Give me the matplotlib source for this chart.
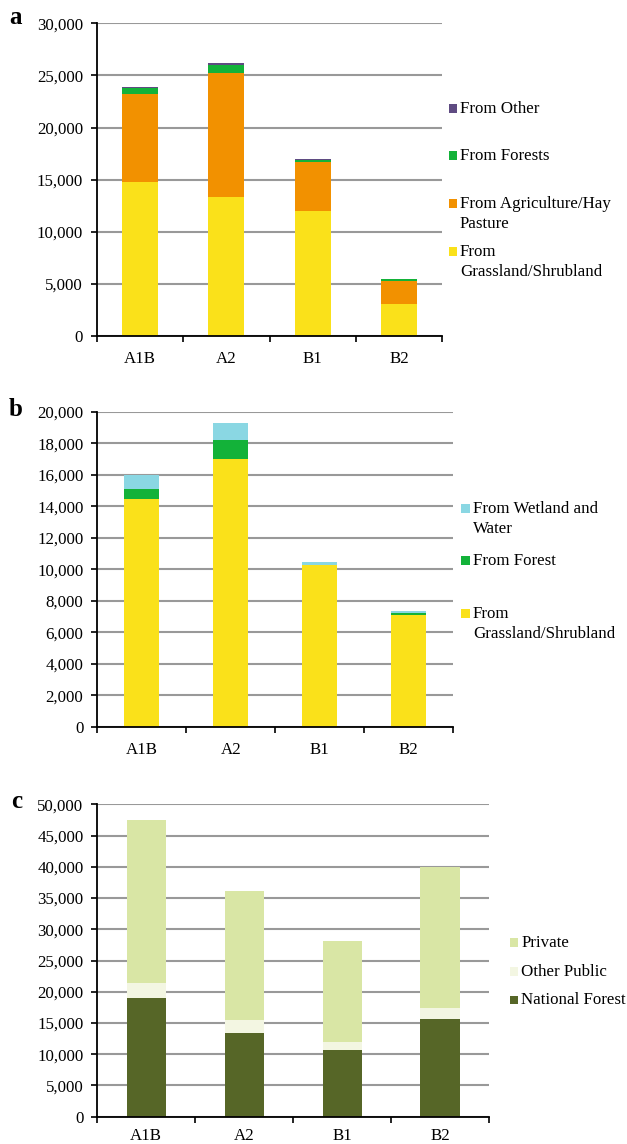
import numpy as np
import matplotlib
matplotlib.use('Agg')
import matplotlib.pyplot as plt
from matplotlib.patches import Rectangle
from matplotlib.ticker import StrMethodFormatter, FixedLocator

plt.rcParams['font.family'] = ['Liberation Serif', 'DejaVu Serif']

FIG_W, FIG_H = 627, 1144

scenarios = ['A1B', 'A2', 'B1', 'B2']

# panel a
a_grass = [14800, 13350, 12000, 3030]
a_agri = [8400, 11890, 4680, 2270]
a_forest = [640, 770, 250, 160]
a_other = [60, 160, 20, 10]
a_labels = ['From\nGrassland/Shrubland', 'From Agriculture/Hay\nPasture', 'From Forests', 'From Other']

# panel b
b_grass = [14450, 17000, 10250, 7100]
b_forest = [640, 1200, 20, 90]
b_wetland = [890, 1080, 210, 130]
b_labels = ['From\nGrassland/Shrubland', 'From Forest', 'From Wetland and\nWater']

# panel c
c_national = [18950, 13450, 10700, 15600]
c_other_public = [2500, 2000, 1300, 1850]
c_private = [26000, 20750, 16200, 22500]
c_labels = ['National Forest', 'Other Public', 'Private']

YELLOW = '#fae11a'
ORANGE = '#f29100'
GREEN = '#13b239'
PURPLE = '#5f4b82'
CYAN = '#8ad7e3'
PRIVATE = '#d9e6a5'
OTHER_PUB = '#f3f6e2'
NAT_FOREST = '#566627'


def px_box(left, top, right, bottom):
    # pixel box (from top-left) -> figure fraction rect
    return [left / FIG_W, 1 - bottom / FIG_H, (right - left) / FIG_W, (bottom - top) / FIG_H]


def stacked_panel(fig, rect, series, colors, ymax, ystep, width, label_pad=11):
    """
    Draw one stacked bar panel in the Excel look of the reference.
    """
    ax = fig.add_axes(rect)
    x = np.arange(len(scenarios))
    bottom = np.zeros(len(scenarios))
    for values, color in zip(series, colors):
        ax.bar(x, values, width, bottom=bottom, color=color, linewidth=0, zorder=3)
        bottom += np.array(values)

    ax.set_xlim(-0.5, len(scenarios) - 0.5)
    ax.set_ylim(0, ymax)
    ax.set_yticks(np.arange(0, ymax + 1, ystep))
    ax.yaxis.set_major_formatter(StrMethodFormatter('{x:,.0f}'))
    ax.yaxis.grid(True, color='#999999', linewidth=1.5, zorder=0)

    ax.xaxis.set_major_locator(FixedLocator(np.arange(-0.5, len(scenarios), 1.0)))
    ax.xaxis.set_minor_locator(FixedLocator(x))
    ax.set_xticklabels([])
    ax.set_xticklabels(scenarios, minor=True)
    ax.tick_params(axis='x', which='major', direction='out', length=4, width=1.2)
    ax.tick_params(axis='x', which='minor', length=0, pad=label_pad, labelsize=12.2)
    ax.tick_params(axis='y', direction='out', length=4.5, width=1.2, pad=5.5, labelsize=12.2)

    for side in ['top', 'right']:
        ax.spines[side].set_visible(False)
    for side in ['left', 'bottom']:
        ax.spines[side].set_linewidth(1.3)
        ax.spines[side].set_zorder(4)
    return ax


def legend_rows(fig, labels, colors, marker_x, text_x, centers):
    """
    Legend like the original: square marker level with the first text line.
    """
    size = 8.5
    for label, color, cy in zip(labels, colors, centers):
        fig.add_artist(Rectangle((marker_x / FIG_W, 1 - (cy + size / 2) / FIG_H),
                                 size / FIG_W, size / FIG_H,
                                 transform=fig.transFigure, facecolor=color, edgecolor='none'))
        for i, line in enumerate(label.split('\n')):
            fig.text(text_x / FIG_W, 1 - (cy + 4.5 + i * 20) / FIG_H, line,
                     fontsize=12.2, va='baseline', ha='left')


fig = plt.figure(figsize=(FIG_W / 100, FIG_H / 100), dpi=100)

stacked_panel(fig, px_box(97, 23.3, 442, 336), [a_grass, a_agri, a_forest, a_other],
              [YELLOW, ORANGE, GREEN, PURPLE], 30000, 5000, 0.415)
legend_rows(fig, a_labels, [YELLOW, ORANGE, GREEN, PURPLE], 448.5, 460,
            [251.7, 203.3, 155.7, 108.3])

stacked_panel(fig, px_box(97.3, 411.7, 453, 726.7), [b_grass, b_forest, b_wetland],
              [YELLOW, GREEN, CYAN], 20000, 2000, 0.39)
legend_rows(fig, b_labels, [YELLOW, GREEN, CYAN], 461.4, 473,
            [613.3, 560.7, 508.3])

stacked_panel(fig, px_box(97.3, 804.3, 489, 1116.7), [c_national, c_other_public, c_private],
              [NAT_FOREST, OTHER_PUB, PRIVATE], 50000, 5000, 0.40, label_pad=8)
legend_rows(fig, c_labels, [NAT_FOREST, OTHER_PUB, PRIVATE], 509.6, 521.3,
            [1000, 971.7, 942.7])

for letter, (lx, ly) in zip(['a', 'b', 'c'], [(16, 24), (16, 416), (17, 808)]):
    fig.text(lx / FIG_W, 1 - ly / FIG_H, letter, fontsize=18, fontweight='bold',
             ha='center', va='baseline')

fig.savefig('out.png', dpi=100)
